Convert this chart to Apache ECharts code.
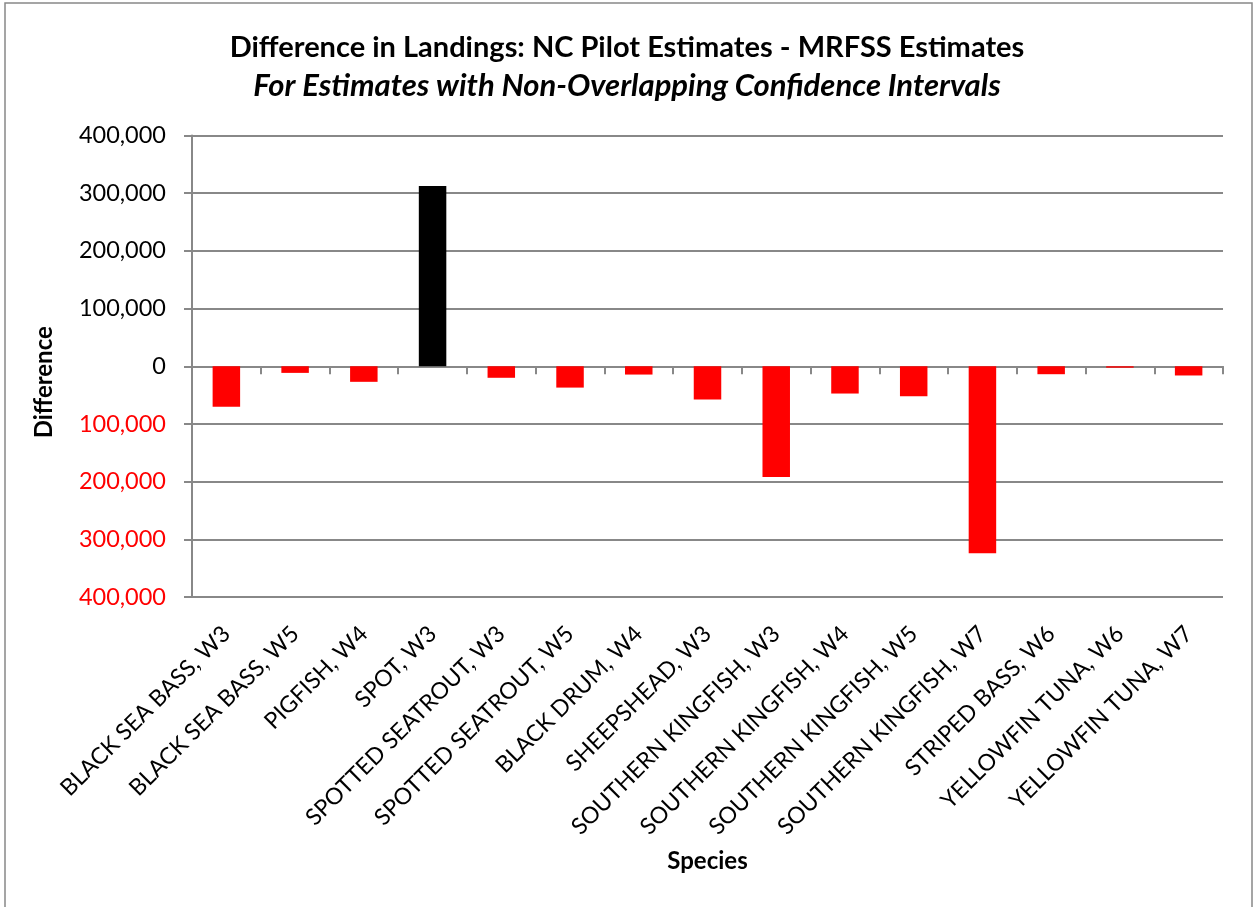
<!DOCTYPE html>
<html><head><meta charset="utf-8">
<script src="https://cdn.jsdelivr.net/npm/echarts@6/dist/echarts.min.js"></script>
<style>html,body{margin:0;padding:0;background:#fff}#c{width:1254px;height:907px}</style>
</head><body><div id="c"></div>
<script>
const categories = ["BLACK SEA BASS, W3","BLACK SEA BASS, W5","PIGFISH, W4","SPOT, W3","SPOTTED SEATROUT, W3","SPOTTED SEATROUT, W5","BLACK DRUM, W4","SHEEPSHEAD, W3","SOUTHERN KINGFISH, W3","SOUTHERN KINGFISH, W4","SOUTHERN KINGFISH, W5","SOUTHERN KINGFISH, W7","STRIPED BASS, W6","YELLOWFIN TUNA, W6","YELLOWFIN TUNA, W7"];
const differences = [-70000,-11500,-27000,312600,-20000,-37000,-14400,-57600,-192000,-47300,-52000,-324000,-13800,-2500,-16000];
const yTicks = [-400000,-300000,-200000,-100000,0,100000,200000,300000,400000];

const FONT = "Lato";
const chart = echarts.init(document.getElementById('c'));
chart.setOption({
  animation:false,
  backgroundColor:'#fff',
  graphic:[{type:'rect',shape:{x:5,y:3,width:1247,height:910},style:{fill:'none',stroke:'#888',lineWidth:1.5},silent:true}],
  title:{
    text:'Difference in Landings: NC Pilot Estimates - MRFSS Estimates',
    subtext:'For Estimates with Non-Overlapping Confidence Intervals',
    left:'center', top:28, itemGap:8,
    textStyle:{fontFamily:FONT,fontSize:29,fontWeight:'bold',color:'#000'},
    subtextStyle:{fontFamily:FONT,fontSize:31,fontWeight:'bold',fontStyle:'italic',color:'#000'}
  },
  grid:{left:192,right:31,top:135.5,bottom:310,containLabel:false},
  xAxis:{
    type:'category', data:categories,
    name:'Species', nameLocation:'middle', nameGap:252,
    nameTextStyle:{fontFamily:FONT,fontSize:24,fontWeight:'bold',color:'#000'},
    axisLine:{onZero:true,lineStyle:{color:'#888',width:2}},
    axisTick:{show:true,length:8,lineStyle:{color:'#888',width:2}},
    axisLabel:{rotate:45,interval:0,fontFamily:FONT,fontSize:23,color:'#000',margin:33}
  },
  yAxis:{
    type:'value', min:-400000, max:400000, interval:100000,
    name:'Difference', nameLocation:'middle', nameGap:136, nameRotate:90,
    nameTextStyle:{fontFamily:FONT,fontSize:24,fontWeight:'bold',color:'#000',padding:[0,32,0,0]},
    axisLine:{show:true,lineStyle:{color:'#888',width:2}},
    axisTick:{show:true,length:8,lineStyle:{color:'#888',width:2}},
    splitLine:{show:true,lineStyle:{color:'#888',width:2}},
    axisLabel:{fontFamily:FONT,fontSize:23.5,margin:26,
      formatter:v=>Math.abs(v).toLocaleString('en-US'),
      color:v=>(v<0?'#ff0000':'#000')}
  },
  series:[{
    type:'bar', barWidth:'40%',
    data:differences.map(v=>({value:v,itemStyle:{color:v>=0?'#000000':'#ff0000'}}))
  }]
});
</script></body></html>
